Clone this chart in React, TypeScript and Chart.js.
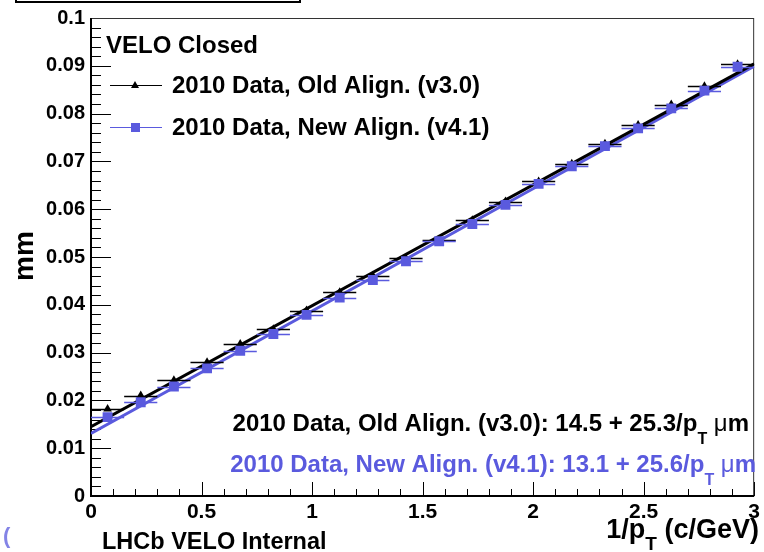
import { useEffect, useRef } from "react";
import { Chart, registerables } from "chart.js";

Chart.register(...registerables);

// Bin centres in 1/pT (c/GeV), bins of width 0.15
const binCenters = [
  0.075, 0.225, 0.375, 0.525, 0.675, 0.825, 0.975, 1.125, 1.275, 1.425,
  1.575, 1.725, 1.875, 2.025, 2.175, 2.325, 2.475, 2.625, 2.775, 2.925,
];
const binHalfWidth = 0.075;

// IP resolution (mm) per bin
const oldAlignMm = [
  0.0182, 0.021, 0.0242, 0.028, 0.0318, 0.0349, 0.0388, 0.0426, 0.0461, 0.0497,
  0.0536, 0.0577, 0.0616, 0.0658, 0.0695, 0.0737, 0.0776, 0.0819, 0.0857, 0.0903,
];
const newAlignMm = [
  0.0165, 0.0196, 0.0229, 0.0267, 0.0304, 0.0339, 0.0379, 0.0415, 0.0452, 0.0491,
  0.0533, 0.0569, 0.0609, 0.0653, 0.069, 0.0732, 0.0769, 0.0811, 0.0848, 0.0898,
];

// Linear fits: offset (um) + slope (um * GeV/c) / pT
const oldFitUm = [14.5, 25.3];
const newFitUm = [13.1, 25.6];
const fitRange = [0, 3];

const xTickLabels = ["0", "0.5", "1", "1.5", "2", "2.5", "3"];
const yTickLabels = [
  "0", "0.01", "0.02", "0.03", "0.04", "0.05", "0.06", "0.07", "0.08", "0.09", "0.1",
];

const FONT = '"Liberation Sans", Arial, Helvetica, sans-serif';
const BLUE = "#5a5ade";

type Piece = { t: string; size: number; weight?: string; dy?: number };

function drawPieces(
  ctx: CanvasRenderingContext2D,
  pieces: Piece[],
  x: number,
  y: number,
  align: "left" | "right",
  color: string
) {
  ctx.save();
  ctx.fillStyle = color;
  ctx.textAlign = "left";
  ctx.textBaseline = "alphabetic";
  const widths = pieces.map((p) => {
    ctx.font = `${p.weight ?? "bold"} ${p.size}px ${FONT}`;
    return ctx.measureText(p.t).width;
  });
  const total = widths.reduce((a, b) => a + b, 0);
  let cx = align === "right" ? x - total : x;
  pieces.forEach((p, i) => {
    ctx.font = `${p.weight ?? "bold"} ${p.size}px ${FONT}`;
    ctx.fillText(p.t, cx, y + (p.dy ?? 0));
    cx += widths[i];
  });
  ctx.restore();
}

function fitLine(p: number[]) {
  return fitRange.map((x) => ({ x, y: (p[0] + p[1] * x) / 1000 }));
}

const rootStyle = {
  id: "rootStyle",
  beforeDatasetsDraw(chart: any) {
    const { ctx, chartArea: a, scales } = chart;
    const xs = scales.x;
    const ys = scales.y;
    ctx.save();
    ctx.strokeStyle = "#000";
    ctx.lineWidth = 1;
    ctx.beginPath();
    // y ticks drawn inside the frame
    for (let i = 0; i <= 50; i++) {
      const py = Math.round(ys.getPixelForValue(i * 0.002)) + 0.5;
      const len = i % 5 === 0 ? 20 : 10;
      ctx.moveTo(a.left, py);
      ctx.lineTo(a.left + len, py);
    }
    // x ticks drawn inside the frame
    for (let i = 0; i <= 30; i++) {
      const px = Math.round(xs.getPixelForValue(i * 0.1)) + 0.5;
      const len = i % 5 === 0 ? 14 : 7;
      ctx.moveTo(px, a.bottom);
      ctx.lineTo(px, a.bottom - len);
    }
    ctx.stroke();
    // frame
    ctx.strokeStyle = "#333";
    ctx.lineWidth = 1;
    ctx.strokeRect(a.left + 0.5, a.top + 0.5, a.right - a.left - 1, a.bottom - a.top - 1);
    ctx.strokeStyle = "#000";
    ctx.lineWidth = 2;
    ctx.beginPath();
    ctx.moveTo(a.left, a.top);
    ctx.lineTo(a.left, a.bottom);
    ctx.lineTo(a.right, a.bottom);
    ctx.stroke();
    ctx.restore();
  },
  beforeDatasetDraw(chart: any, args: any) {
    const ds = chart.data.datasets[args.index];
    if (!ds.xErr) return;
    const { ctx } = chart;
    const xs = chart.scales.x;
    const ys = chart.scales.y;
    ctx.save();
    ctx.strokeStyle = ds.borderColor;
    ctx.lineWidth = 1.3;
    ctx.beginPath();
    ds.data.forEach((p: { x: number; y: number }) => {
      const py = Math.round(ys.getPixelForValue(p.y)) + 0.5;
      ctx.moveTo(xs.getPixelForValue(p.x - ds.xErr), py);
      ctx.lineTo(xs.getPixelForValue(p.x + ds.xErr), py);
    });
    ctx.stroke();
    ctx.restore();
  },
  afterDraw(chart: any) {
    const { ctx } = chart;
    ctx.save();

    // partial box at the top-left
    ctx.strokeStyle = "#000";
    ctx.lineWidth = 2;
    ctx.strokeRect(16, -6, 284, 8);

    // legend
    drawPieces(ctx, [{ t: "VELO Closed", size: 24 }], 106, 52.5, "left", "#000");

    ctx.lineWidth = 1;
    ctx.strokeStyle = "#000";
    ctx.beginPath();
    ctx.moveTo(110, 85.5);
    ctx.lineTo(162, 85.5);
    ctx.stroke();
    ctx.fillStyle = "#000";
    ctx.beginPath();
    ctx.moveTo(135, 81);
    ctx.lineTo(139, 88);
    ctx.lineTo(131, 88);
    ctx.closePath();
    ctx.fill();
    drawPieces(ctx, [{ t: "2010 Data, Old Align. (v3.0)", size: 24 }], 172, 93, "left", "#000");

    ctx.strokeStyle = BLUE;
    ctx.beginPath();
    ctx.moveTo(110, 127.5);
    ctx.lineTo(162, 127.5);
    ctx.stroke();
    ctx.fillStyle = BLUE;
    ctx.fillRect(131, 123, 9, 9);
    drawPieces(ctx, [{ t: "2010 Data, New Align. (v4.1)", size: 24 }], 172, 134.5, "left", "#000");

    // fit results
    const fitText = (name: string, p: number[]): Piece[] => [
      { t: `${name}: ${p[0].toFixed(1)} + ${p[1].toFixed(1)}/p`, size: 24 },
      { t: "T", size: 16, dy: 13 },
      { t: " ", size: 24 },
      { t: "\u03bc", size: 24, weight: "normal" },
      { t: "m", size: 24 },
    ];
    drawPieces(ctx, fitText("2010 Data, Old Align. (v3.0)", oldFitUm), 749, 431, "right", "#000");
    drawPieces(ctx, fitText("2010 Data, New Align. (v4.1)", newFitUm), 756, 471.5, "right", BLUE);

    // axis titles
    drawPieces(
      ctx,
      [
        { t: "1/p", size: 27 },
        { t: "T", size: 19, dy: 12 },
        { t: " (c/GeV)", size: 27 },
      ],
      759,
      538,
      "right",
      "#000"
    );
    ctx.save();
    ctx.translate(33, 256);
    ctx.rotate(-Math.PI / 2);
    ctx.font = `bold 28px ${FONT}`;
    ctx.fillStyle = "#000";
    ctx.textAlign = "center";
    ctx.textBaseline = "alphabetic";
    ctx.fillText("mm", 0, 0);
    ctx.restore();

    drawPieces(ctx, [{ t: "LHCb VELO Internal", size: 23.5 }], 102, 549, "left", "#000");
    drawPieces(ctx, [{ t: "(", size: 22 }], 3, 543, "left", "rgba(90,90,222,0.75)");

    ctx.restore();
  },
};

export default function App() {
  const canvasRef = useRef<HTMLCanvasElement | null>(null);

  useEffect(() => {
    const canvas = canvasRef.current;
    if (!canvas) return;
    const chart = new Chart(canvas, {
      type: "scatter",
      data: {
        datasets: [
          {
            label: "2010 Data, New Align. (v4.1)",
            data: binCenters.map((x, i) => ({ x, y: newAlignMm[i] })),
            pointStyle: "rect",
            pointRadius: 7,
            backgroundColor: BLUE,
            borderColor: BLUE,
            borderWidth: 0,
            order: 0,
            xErr: binHalfWidth,
          } as any,
          {
            label: "2010 Data, Old Align. (v3.0)",
            data: binCenters.map((x, i) => ({ x, y: oldAlignMm[i] })),
            pointStyle: "triangle",
            pointRadius: 5,
            backgroundColor: "#000",
            borderColor: "#000",
            borderWidth: 0,
            order: 1,
            xErr: binHalfWidth,
          } as any,
          {
            type: "line",
            label: "Old fit",
            data: fitLine(oldFitUm),
            borderColor: "#000",
            borderWidth: 3,
            pointRadius: 0,
            showLine: true,
            order: 2,
          } as any,
          {
            type: "line",
            label: "New fit",
            data: fitLine(newFitUm),
            borderColor: BLUE,
            borderWidth: 3,
            pointRadius: 0,
            showLine: true,
            order: 3,
          } as any,
        ],
      },
      options: {
        responsive: false,
        animation: false,
        devicePixelRatio: 1,
        events: [],
        layout: { padding: { left: 0, right: 5, top: 17, bottom: 0 } },
        plugins: {
          legend: { display: false },
          tooltip: { enabled: false },
          title: { display: false },
        },
        scales: {
          x: {
            type: "linear",
            min: 0,
            max: 3,
            grid: { display: false, drawTicks: false },
            border: { display: false },
            ticks: {
              stepSize: 0.5,
              padding: 4,
              color: "#000",
              font: { family: FONT, size: 21, weight: "bold" },
              maxRotation: 0,
              callback: (_v: any, i: number) => xTickLabels[i],
            },
            afterFit: (s: any) => {
              s.height = 56;
            },
          },
          y: {
            type: "linear",
            min: 0,
            max: 0.1,
            grid: { display: false, drawTicks: false },
            border: { display: false },
            ticks: {
              stepSize: 0.01,
              padding: 6,
              color: "#000",
              font: { family: FONT, size: 20, weight: "bold" },
              callback: (_v: any, i: number) => yTickLabels[i],
            },
            afterFit: (s: any) => {
              s.width = 91;
            },
          },
        },
      } as any,
      plugins: [rootStyle],
    });
    return () => chart.destroy();
  }, []);

  return (
    <div style={{ position: "fixed", left: 0, top: 0, width: 764, height: 552, background: "#fff" }}>
      <canvas ref={canvasRef} width={764} height={552} />
    </div>
  );
}
